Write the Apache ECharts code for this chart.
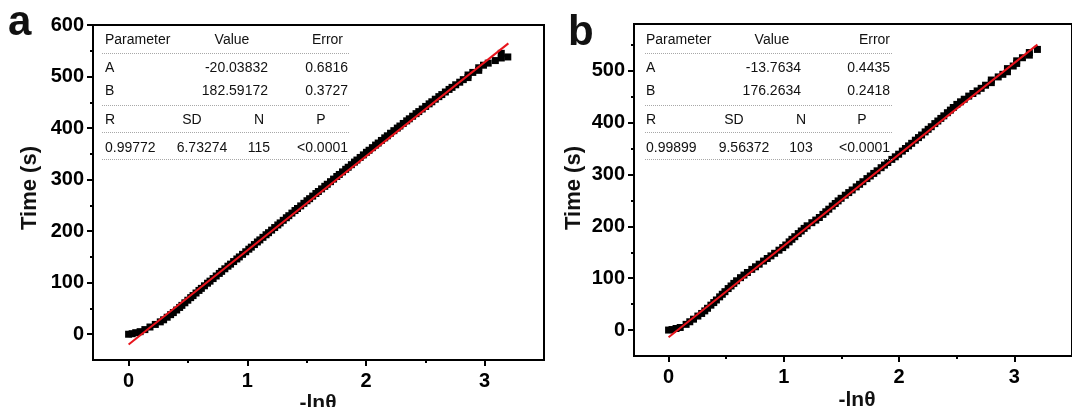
<!DOCTYPE html>
<html><head><meta charset="utf-8">
<script src="https://cdn.jsdelivr.net/npm/echarts@6/dist/echarts.min.js"></script>
<style>html,body{margin:0;padding:0;background:#fff}#c{width:1072px;height:407px}</style>
</head><body><div id="c"></div>
<script>
// ---------------- DATA ----------------
const xTicks = [0, 1, 2, 3];
const xMinorTicks = [0.5, 1.5, 2.5];
const yTicksA = [0, 100, 200, 300, 400, 500, 600];
const yMinorTicksA = [50, 150, 250, 350, 450, 550];
const yTicksB = [0, 100, 200, 300, 400, 500];
const yMinorTicksB = [50, 150, 250, 350, 450, 550];

const lnThetaA = [0,0.03,0.06,0.097,0.137,0.180,0.225,0.267,0.295,0.325,0.354,0.377,
0.405,0.430,0.449,0.474,0.499,0.523,0.543,0.568,0.593,0.613,
0.639,0.665,0.686,0.712,0.738,0.764,0.784,0.811,0.837,0.859,
0.885,0.912,0.933,0.960,0.987,1.013,1.034,1.060,1.085,1.106,
1.132,1.158,1.179,1.205,1.231,1.257,1.277,1.303,1.329,1.350,
1.376,1.402,1.423,1.450,1.477,1.503,1.525,1.551,1.578,1.599,
1.626,1.653,1.674,1.701,1.727,1.754,1.775,1.802,1.829,1.850,
1.877,1.903,1.924,1.951,1.978,2.004,2.026,2.054,2.081,2.103,
2.130,2.158,2.180,2.207,2.235,2.264,2.286,2.314,2.343,2.365,
2.393,2.422,2.445,2.474,2.503,2.532,2.555,2.584,2.614,2.639,
2.669,2.700,2.725,2.756,2.79,2.82,2.86,2.86,2.90,2.95,
2.95,2.99,3.03,3.09,3.14,3.14,3.195];
const timeA = [0,1,3,5,9,14,19,24,28,33,38,42,
47,52,56,61,66,71,75,80,85,89,
94,99,103,108,113,118,122,127,132,136,
141,146,150,155,160,165,169,174,179,183,
188,193,197,202,207,212,216,221,226,230,
235,240,244,249,254,259,263,268,273,277,
282,287,291,296,301,306,310,315,320,324,
329,334,338,343,348,353,357,362,367,371,
376,381,385,390,395,400,404,409,414,418,
423,428,432,437,442,447,451,456,461,465,
470,475,479,484,489,494,498,503,508,512,
517,522,526,531,536,545,538];

const lnThetaB = [0,0.03,0.065,0.101,0.152,0.184,0.216,0.254,0.287,0.314,0.338,0.367,
0.392,0.415,0.443,0.466,0.489,0.517,0.542,0.566,0.590,0.624,
0.654,0.684,0.722,0.754,0.786,0.824,0.856,0.888,0.920,0.958,
0.990,1.017,1.046,1.070,1.095,1.125,1.151,1.176,1.202,1.243,
1.277,1.308,1.339,1.364,1.390,1.420,1.446,1.471,1.497,1.533,
1.563,1.593,1.628,1.657,1.686,1.721,1.750,1.780,1.809,1.844,
1.873,1.902,1.937,1.967,1.996,2.028,2.055,2.082,2.109,2.141,
2.168,2.195,2.226,2.252,2.279,2.310,2.336,2.362,2.388,2.419,
2.445,2.470,2.501,2.533,2.565,2.604,2.640,2.677,2.712,2.75,
2.80,2.80,2.86,2.90,2.94,2.94,2.99,3.02,3.02,3.07,
3.13,3.13,3.20];
const timeB = [0,1,3,5,11,16,21,27,32,37,42,48,
53,58,64,69,74,80,85,90,95,101,
106,111,117,122,127,133,138,143,148,154,
159,164,170,175,180,186,191,196,201,207,
212,217,223,228,233,239,244,249,254,260,
265,270,276,281,286,292,297,302,307,313,
318,323,329,334,339,345,350,355,360,366,
371,376,382,387,392,398,403,408,413,419,
424,429,435,440,445,451,456,461,466,472,
477,482,488,493,498,504,509,514,519,525,
530,535,541];

const fitLineA = [[0, -20.04], [3.2, 564.3]];
const fitLineB = [[0, -13.76], [3.2, 550.3]];

const tableHeader = ['Parameter', 'Value', 'Error'];
const tableParamsA = [['A', '-20.03832', '0.6816'], ['B', '182.59172', '0.3727']];
const tableParamsB = [['A', '-13.7634', '0.4435'], ['B', '176.2634', '0.2418']];
const statsHeader = ['R', 'SD', 'N', 'P'];
const statsA = ['0.99772', '6.73274', '115', '<0.0001'];
const statsB = ['0.99899', '9.56372', '103', '<0.0001'];
const panelLetters = ['a', 'b'];
const xAxisTitle = '-ln\u03b8';
const yAxisTitle = 'Time (s)';

// ---------------- LAYOUT ----------------
const FONT = "'Liberation Sans', Arial, Helvetica, sans-serif";
const grids = [
  {left: 93, top: 25, width: 451, height: 335},
  {left: 634, top: 24, width: 460, height: 332}
];
const yRanges = [[-50, 600], [-50, 590]];
const xRange = [-0.3, 3.5];

function zipPts(xs, ys) { return xs.map((x, i) => [x, ys[i]]); }

const xAxes = [], yAxes = [];
function addAxes(gi, yr, yT, yM) {
  xAxes.push({
    type: 'value', gridIndex: gi, position: 'bottom', min: xRange[0], max: xRange[1],
    axisLine: {show: true, onZero: false, lineStyle: {color: '#000', width: 2}},
    axisTick: {show: true, inside: false, length: 6, customValues: xTicks, lineStyle: {color: '#000', width: 2}},
    axisLabel: {show: true, customValues: xTicks, margin: 11, color: '#000', fontWeight: 'bold', fontSize: 20, fontFamily: FONT},
    splitLine: {show: false}
  });
  xAxes.push({
    type: 'value', gridIndex: gi, position: 'bottom', min: xRange[0], max: xRange[1],
    axisLine: {show: false, onZero: false},
    axisTick: {show: true, inside: false, length: 3, customValues: xMinorTicks, lineStyle: {color: '#000', width: 2}},
    axisLabel: {show: false}, splitLine: {show: false}
  });
  yAxes.push({
    type: 'value', gridIndex: gi, position: 'left', min: yr[0], max: yr[1],
    axisLine: {show: true, onZero: false, lineStyle: {color: '#000', width: 2}},
    axisTick: {show: true, inside: false, length: 6, customValues: yT, lineStyle: {color: '#000', width: 2}},
    axisLabel: {show: true, customValues: yT, margin: 9, color: '#000', fontWeight: 'bold', fontSize: 20, fontFamily: FONT},
    splitLine: {show: false}
  });
  yAxes.push({
    type: 'value', gridIndex: gi, position: 'left', min: yr[0], max: yr[1],
    axisLine: {show: false, onZero: false},
    axisTick: {show: true, inside: false, length: 3, customValues: yM, lineStyle: {color: '#000', width: 2}},
    axisLabel: {show: false}, splitLine: {show: false}
  });
}
addAxes(0, yRanges[0], yTicksA, yMinorTicksA);
addAxes(1, yRanges[1], yTicksB, yMinorTicksB);

const series = [
  {type: 'scatter', xAxisIndex: 0, yAxisIndex: 0, symbol: 'rect', symbolSize: 7,
   itemStyle: {color: '#000', opacity: 1}, data: zipPts(lnThetaA, timeA), z: 2},
  {type: 'line', xAxisIndex: 0, yAxisIndex: 0, symbol: 'none', data: fitLineA,
   lineStyle: {color: '#e8141c', width: 2}, z: 3},
  {type: 'scatter', xAxisIndex: 2, yAxisIndex: 2, symbol: 'rect', symbolSize: 7,
   itemStyle: {color: '#000', opacity: 1}, data: zipPts(lnThetaB, timeB), z: 2},
  {type: 'line', xAxisIndex: 2, yAxisIndex: 2, symbol: 'none', data: fitLineB,
   lineStyle: {color: '#e8141c', width: 2}, z: 3}
];

// table graphics
const tableLayouts = [
  {x0: 102, x1: 350, paramX: 105, valHdrX: 232, errHdrX: 343, valX: 268, errX: 348,
   sdX: 192, nX: 259, pX: 321, sdValX: 202, nValX: 259, pValX: 348},
  {x0: 645, x1: 892, paramX: 646, valHdrX: 772, errHdrX: 890, valX: 801, errX: 890,
   sdX: 734, nX: 801, pX: 862, sdValX: 744, nValX: 801, pValX: 890}
];
const rowY = {hdr: 40, l1: 53, rA: 68, rB: 91, l2: 105, sHdr: 120, l3: 132, sVal: 148, l4: 159};
const TFONT = "14px " + FONT;
const graphics = [];
function txt(t, x, y, align, font, extra) {
  graphics.push(Object.assign({type: 'text', x: x, y: y, z: 100,
    style: {text: t, fill: '#111', font: font || TFONT, textAlign: align, textVerticalAlign: 'middle'}}, extra || {}));
}
function dot(x0, x1, y) {
  graphics.push({type: 'line', z: 100, shape: {x1: x0, y1: y + 0.5, x2: x1, y2: y + 0.5},
    style: {stroke: '#a8a8a8', lineWidth: 1, lineDash: [1, 1]}});
}
[[tableParamsA, statsA], [tableParamsB, statsB]].forEach((pair, i) => {
  const L = tableLayouts[i];
  txt(tableHeader[0], L.paramX, rowY.hdr, 'left');
  txt(tableHeader[1], L.valHdrX, rowY.hdr, 'center');
  txt(tableHeader[2], L.errHdrX, rowY.hdr, 'right');
  dot(L.x0, L.x1, rowY.l1);
  const rows = pair[0];
  [rowY.rA, rowY.rB].forEach((y, r) => {
    txt(rows[r][0], L.paramX, y, 'left');
    txt(rows[r][1], L.valX, y, 'right');
    txt(rows[r][2], L.errX, y, 'right');
  });
  dot(L.x0, L.x1, rowY.l2);
  txt(statsHeader[0], L.paramX, rowY.sHdr, 'left');
  txt(statsHeader[1], L.sdX, rowY.sHdr, 'center');
  txt(statsHeader[2], L.nX, rowY.sHdr, 'center');
  txt(statsHeader[3], L.pX, rowY.sHdr, 'center');
  dot(L.x0, L.x1, rowY.l3);
  const s = pair[1];
  txt(s[0], L.paramX, rowY.sVal, 'left');
  txt(s[1], L.sdValX, rowY.sVal, 'center');
  txt(s[2], L.nValX, rowY.sVal, 'center');
  txt(s[3], L.pValX, rowY.sVal, 'right');
  dot(L.x0, L.x1, rowY.l4);
});
// panel letters
txt(panelLetters[0], 8, 23, 'left', "bold 42px " + FONT);
txt(panelLetters[1], 568, 33, 'left', "bold 42px " + FONT);
// axis titles
txt(yAxisTitle, 30, 188, 'center', "bold 22px " + FONT, {rotation: Math.PI / 2});
txt(yAxisTitle, 574, 188, 'center', "bold 22px " + FONT, {rotation: Math.PI / 2});
txt(xAxisTitle, 318, 403, 'center', "bold 21px " + FONT);
txt(xAxisTitle, 857, 400, 'center', "bold 21px " + FONT);

const chart = echarts.init(document.getElementById('c'), null, {renderer: 'canvas'});
chart.setOption({
  animation: false,
  backgroundColor: '#fff',
  grid: grids.map(g => Object.assign({show: true, borderColor: '#000', borderWidth: 2, backgroundColor: 'transparent', containLabel: false}, g)),
  xAxis: xAxes,
  yAxis: yAxes,
  series: series,
  graphic: graphics
});
</script>
</body></html>
